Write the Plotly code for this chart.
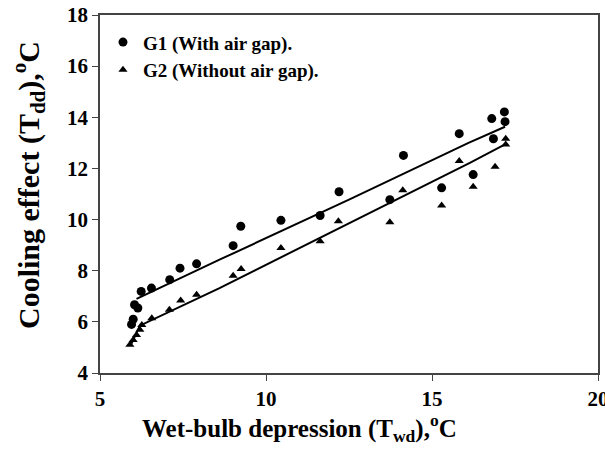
import plotly.graph_objects as go

# G1 (With air gap) - circles
g1_x = [5.95, 6.0, 6.04, 6.14, 6.24, 6.55, 7.1, 7.41, 7.91, 9.01, 9.24, 10.45,
        11.63, 12.2, 13.73, 14.14, 15.29, 15.82, 16.24, 16.8, 16.85, 17.18, 17.2]
g1_y = [5.9, 6.1, 6.67, 6.54, 7.19, 7.32, 7.65, 8.1, 8.27, 8.98, 9.74, 9.97,
        10.16, 11.09, 10.78, 12.51, 11.24, 13.36, 11.76, 13.95, 13.16, 14.21, 13.83]

# G2 (Without air gap) - triangles
g2_x = [5.9, 6.0, 6.1, 6.2, 6.26, 6.56, 7.09, 7.43, 7.91, 9.01, 9.25, 10.45,
        11.63, 12.18, 13.73, 14.12, 15.29, 15.82, 16.24, 16.9, 17.22, 17.22]
g2_y = [5.1, 5.29, 5.49, 5.69, 5.88, 6.14, 6.47, 6.84, 7.06, 7.8, 8.07, 8.89,
        9.15, 9.93, 9.9, 11.15, 10.55, 12.29, 11.28, 12.07, 13.16, 12.94]

# fitted trend lines
g1_fit_x = [6.1, 8.6, 12.5, 16.1, 17.2]
g1_fit_y = [6.9, 8.43, 10.78, 13.0, 13.63]
g2_fit_x = [5.95, 6.2, 8.6, 12.23, 16.14, 17.2]
g2_fit_y = [5.15, 5.85, 7.32, 9.67, 12.22, 12.94]

x_ticks = [5, 10, 15, 20]
y_ticks = [4, 6, 8, 10, 12, 14, 16, 18]

x_title = "<b>Wet-bulb depression (T<sub>wd</sub>),<sup>o</sup>C</b>"
y_title = "<b>Cooling effect (T<sub>dd</sub>),<sup>o</sup>C</b>"

FONT = "Liberation Serif"

fig = go.Figure()
fig.add_trace(go.Scatter(x=g1_fit_x, y=g1_fit_y, mode="lines",
                         line=dict(color="black", width=2), showlegend=False))
fig.add_trace(go.Scatter(x=g2_fit_x, y=g2_fit_y, mode="lines",
                         line=dict(color="black", width=2), showlegend=False))
fig.add_trace(go.Scatter(x=g1_x, y=g1_y, mode="markers", name="<b>G1 (With air gap).</b>",
                         marker=dict(symbol="circle", size=9, color="black")))
fig.add_trace(go.Scatter(x=g2_x, y=g2_y, mode="markers", name="<b>G2 (Without air gap).</b>",
                         marker=dict(symbol="triangle-up", size=8, color="black")))

fig.update_layout(
    width=605, height=450,
    margin=dict(l=100, r=7, t=15, b=77, autoexpand=False),
    paper_bgcolor="white", plot_bgcolor="white",
    font=dict(family=FONT, color="black"),
    legend=dict(x=0.006, y=0.977, xanchor="left", yanchor="top",
                font=dict(family=FONT, size=19, color="black"),
                bgcolor="rgba(0,0,0,0)", itemwidth=30, tracegroupgap=6),
    annotations=[
        dict(text=x_title, xref="paper", yref="paper", x=0.4016, y=-0.153,
             xanchor="center", yanchor="middle", showarrow=False,
             font=dict(family=FONT, size=25, color="black")),
        dict(text=y_title, xref="paper", yref="paper", x=-0.1446, y=0.525,
             xanchor="center", yanchor="middle", showarrow=False, textangle=-90,
             font=dict(family=FONT, size=30, color="black")),
    ],
)
fig.update_xaxes(range=[5, 20], tickvals=x_ticks, ticks="outside", ticklen=6,
                 showgrid=False, zeroline=False, showline=True, linecolor="#444",
                 linewidth=1.5, mirror=True, ticklabeloverflow="allow",
                 tickfont=dict(family=FONT, size=21, color="black", weight="bold"))
fig.update_yaxes(range=[4, 18], tickvals=y_ticks, ticks="outside", ticklen=6,
                 showgrid=False, zeroline=False, showline=True, linecolor="#444",
                 linewidth=1.5, mirror=True, ticklabeloverflow="allow",
                 tickfont=dict(family=FONT, size=21, color="black", weight="bold"))

fig.write_html("out.html", config={"displayModeBar": False},
               post_script="document.body.style.margin='0';document.body.style.overflow='hidden';")
